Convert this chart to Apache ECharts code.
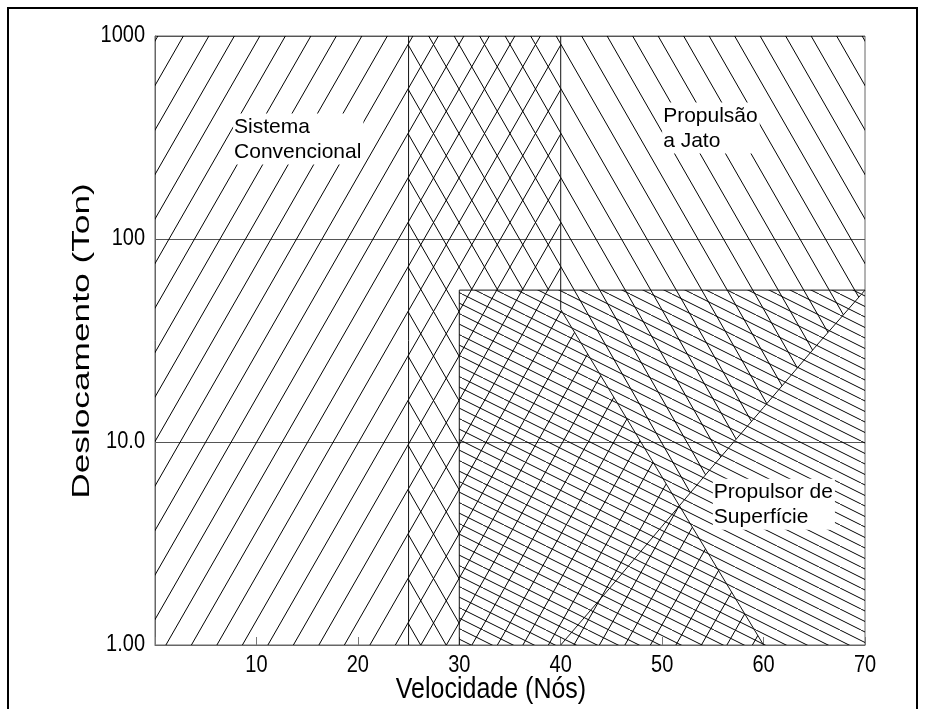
<!DOCTYPE html>
<html><head><meta charset="utf-8">
<script src="https://cdn.jsdelivr.net/npm/echarts@6/dist/echarts.min.js"></script>
<style>html,body{margin:0;padding:0;background:#fff}#c{width:925px;height:709px}</style>
</head><body><div id="c"></div>
<script>
// ---- data ----
const xTickValues = [10, 20, 30, 40, 50, 60, 70];
const yTickValues = [1, 10, 100, 1000];
const yTickLabels = ['1.00', '10.0', '100', '1000'];
const conventionalRegion = [[0, 1], [0, 1000], [40, 1000], [40, 45]];
const diagonalBoundary = [[40, 45], [60, 1]];
const jetRegionTop = [[25, 1], [25, 1000], [70, 1000], [70, 56]];
const jetCurve = [[40, 1], [45, 1.95], [50, 3.85], [55, 7.6], [60, 14.8], [65, 29], [70, 56]];
const surfaceRegion = [[30, 1], [30, 56], [70, 56], [70, 1]];
const regionLabels = ['Sistema\nConvencional', 'Propulsão\na Jato', 'Propulsor de\nSuperfície'];
const labelX = [7.7, 50, 55];
const labelY = [415, 470, 6.6];
const xAxisName = 'Velocidade (Nós)';
const yAxisName = 'Deslocamento (Ton)';

const FONT = '"Liberation Sans", Arial, sans-serif';

// ---- hatch tiles ----
function makeTile(W, H, n, dir) {
  const c = document.createElement('canvas');
  c.width = W; c.height = H;
  const g = c.getContext('2d');
  g.strokeStyle = '#000'; g.lineWidth = 1;
  const d = W / n;
  for (let k = -n - 1; k <= n + 1; k++) {
    g.beginPath();
    if (dir === '/') { g.moveTo(k * d, H); g.lineTo(k * d + W, 0); }
    else { g.moveTo(k * d, 0); g.lineTo(k * d + W, H); }
    g.stroke();
  }
  return { image: c, repeat: 'repeat' };
}
const patConv = makeTile(51, 89, 2, '/');
const patJet = makeTile(51, 89, 2, '\\');
const patSurf = makeTile(42, 21, 2, '\\');

function segIntersect(a, b, c, d) {
  const r = [b[0] - a[0], b[1] - a[1]], s = [d[0] - c[0], d[1] - c[1]];
  const den = r[0] * s[1] - r[1] * s[0];
  if (Math.abs(den) < 1e-9) return null;
  const t = ((c[0] - a[0]) * s[1] - (c[1] - a[1]) * s[0]) / den;
  const u = ((c[0] - a[0]) * r[1] - (c[1] - a[1]) * r[0]) / den;
  if (t < 0 || t > 1 || u < 0 || u > 1) return null;
  return [a[0] + t * r[0], a[1] + t * r[1]];
}

function renderRegion(params, api) {
  const P = pts => pts.map(p => api.coord(p));
  const i = params.dataIndex;
  let pts, fill;
  if (i === 0) {
    pts = P(conventionalRegion.concat(diagonalBoundary.slice(1)));
    fill = patConv;
  } else if (i === 1) {
    const cp = P(jetCurve), dp = P(diagonalBoundary);
    let X = null, ci = 0, di = 0;
    for (let a = 0; a < cp.length - 1 && !X; a++)
      for (let b = 0; b < dp.length - 1 && !X; b++) {
        const r = segIntersect(cp[a], cp[a + 1], dp[b], dp[b + 1]);
        if (r) { X = r; ci = a; di = b; }
      }
    pts = P(jetRegionTop);
    for (let k = cp.length - 2; k > ci; k--) pts.push(cp[k]);
    pts.push(X);
    for (let k = di; k >= 0; k--) pts.push(dp[k]);
    const ys = surfaceRegion[1][1];
    pts.push(api.coord([diagonalBoundary[0][0], ys]));
    pts.push(api.coord([surfaceRegion[1][0], ys]));
    pts.push(api.coord(surfaceRegion[0]));
    fill = patJet;
  } else {
    pts = P(surfaceRegion);
    fill = patSurf;
  }
  return { type: 'polygon', shape: { points: pts }, style: { fill: fill, stroke: null }, silent: true };
}

function renderLabel(params, api) {
  const i = params.dataIndex;
  const p = api.coord([labelX[i], labelY[i]]);
  return {
    type: 'text', x: p[0], y: p[1], z2: 10,
    style: {
      text: regionLabels[i], font: '21px ' + FONT, fill: '#000',
      backgroundColor: '#fff', padding: [1, 2, 0, 1], lineHeight: 25,
      align: 'left', verticalAlign: 'top'
    }
  };
}

// tick labels drawn through the axes' scales (slightly tall, like the original)
function renderXTick(params, api) {
  const v = xTickValues[params.dataIndex];
  const p = api.coord([v, 1]);
  return { type: 'text', x: p[0], y: p[1] + 9, scaleY: 1.15,
    style: { text: String(v), font: '20px ' + FONT, fill: '#000', align: 'center', verticalAlign: 'top' } };
}
function renderYTick(params, api) {
  const i = params.dataIndex;
  const p = api.coord([0, yTickValues[i]]);
  return { type: 'text', x: p[0] - 10, y: p[1], scaleY: 1.15,
    style: { text: yTickLabels[i], font: '20px ' + FONT, fill: '#000', align: 'right', verticalAlign: 'middle' } };
}

const lineStyle = { color: '#111', width: 1 };
function boundary(data) {
  return { type: 'line', data: data, symbol: 'none', lineStyle: lineStyle, silent: true, z: 3, animation: false };
}

const chart = echarts.init(document.getElementById('c'), null, { renderer: 'canvas' });
chart.setOption({
  animation: false,
  backgroundColor: '#fff',
  grid: { left: 155, right: 60, top: 36, bottom: 64, show: true, borderColor: '#666', borderWidth: 1, backgroundColor: 'transparent' },
  xAxis: {
    type: 'value', min: 0, max: 70, interval: 10,
    axisLine: { lineStyle: { color: '#666' } },
    axisTick: { inside: true, length: 8, lineStyle: { color: '#777' } },
    axisLabel: { show: false },
    splitLine: { show: false }
  },
  yAxis: {
    type: 'log', logBase: 10, min: 1, max: 1000,
    axisLine: { lineStyle: { color: '#666' } },
    axisTick: { show: false },
    axisLabel: { show: false },
    splitLine: { show: true, lineStyle: { color: '#555', width: 1.2 } }
  },
  graphic: [
    { type: 'rect', shape: { x: 8, y: 8, width: 909, height: 720 },
      style: { fill: 'none', stroke: '#000', lineWidth: 2 }, silent: true },
    { type: 'text', x: 491, y: 690, scaleY: 1.2, silent: true,
      style: { text: xAxisName, font: '25px ' + FONT, fill: '#000', align: 'center', verticalAlign: 'middle' } },
    { type: 'text', x: 82, y: 341, rotation: Math.PI / 2, scaleX: 1.47, silent: true,
      style: { text: yAxisName, font: '24px ' + FONT, fill: '#000', align: 'center', verticalAlign: 'middle' } }
  ],
  series: [
    { type: 'custom', coordinateSystem: 'cartesian2d', data: [[0], [1], [2]], renderItem: renderRegion, z: 1, silent: true, clip: false },
    boundary([[25, 1], [25, 1000]]),
    boundary([[40, 45], [40, 1000]]),
    boundary(surfaceRegion.slice(0, 3)),
    boundary(jetCurve),
    boundary(diagonalBoundary),
    { type: 'custom', coordinateSystem: 'cartesian2d', data: [[0], [1], [2]], renderItem: renderLabel, z: 10, silent: true, clip: false },
    { type: 'custom', coordinateSystem: 'cartesian2d', data: xTickValues.map(v => [v]), renderItem: renderXTick, z: 10, silent: true, clip: false },
    { type: 'custom', coordinateSystem: 'cartesian2d', data: yTickValues.map(v => [v]), renderItem: renderYTick, z: 10, silent: true, clip: false }
  ]
});
</script>
</body></html>
